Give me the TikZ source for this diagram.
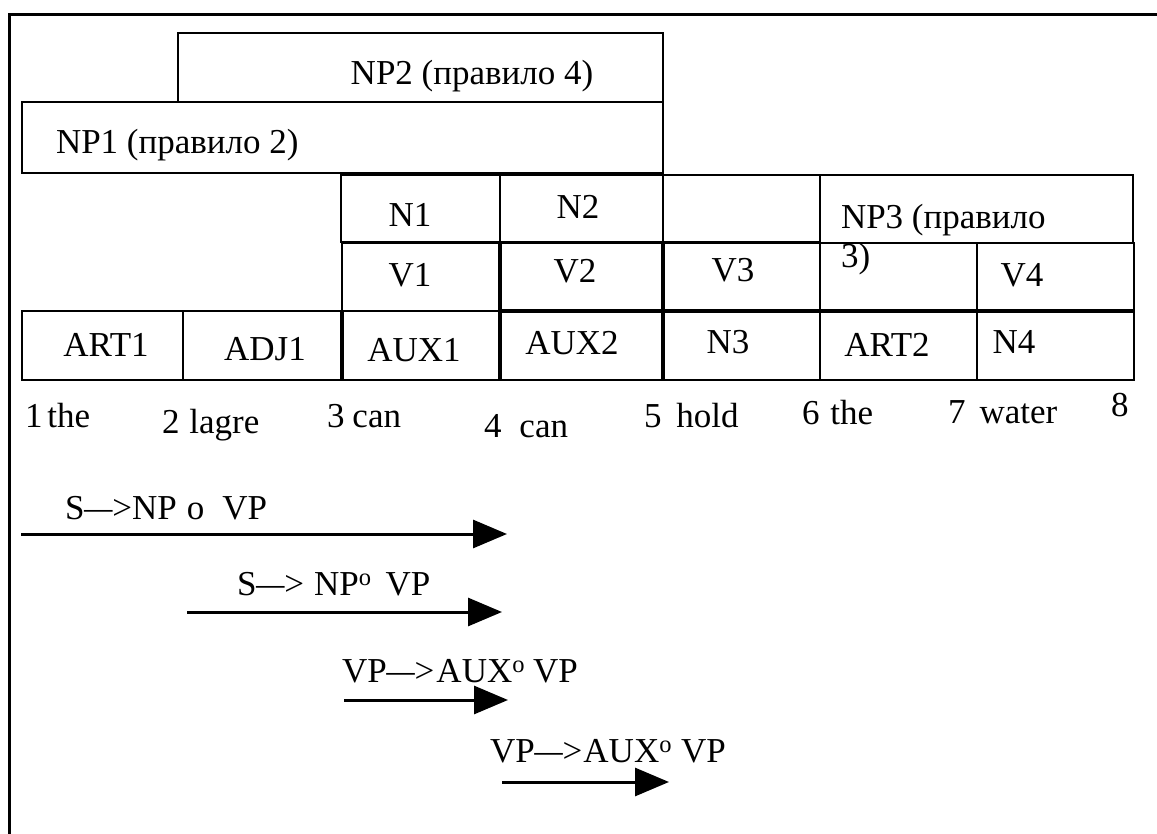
\documentclass[tikz,border=0pt]{standalone}
\usepackage{fontspec}
\setmainfont{Liberation Serif}
\usetikzlibrary{arrows.meta}
% dash used in the rewrite rules
\newcommand\rdash{\scalebox{1.6}[1]{–}}
\begin{document}
\begin{tikzpicture}[x=1pt,y=-1pt,
  cell/.style={draw=black, line width=2.5pt},
  heavy/.style={draw=black, line width=4pt},
  txt/.style={inner sep=0pt, outer sep=0pt, font=\fontsize{35}{40}\selectfont},
  ctr/.style={txt, anchor=base},
  lft/.style={txt, anchor=base west},
  rulearrow/.style={line width=3pt, -{Triangle[length=34pt,width=28pt]}},
]
\useasboundingbox (0,0) rectangle (1157,834);
\fill[white] (0,0) rectangle (1157,834);

% open frame: top and left edges only
\draw[line width=3pt] (9.5,834) -- (9.5,14.5) -- (1157,14.5);

% noun phrase spans
\draw[cell] (178,33) rectangle (663,102);
\draw[cell] (22,102) rectangle (663,173);

% upper category row
\draw[cell] (341,175) rectangle (500,242);
\draw[cell] (500,175) rectangle (663,242);
\draw[cell] (663,175) rectangle (820,242);
\draw[cell] (820,175) rectangle (1133,243);

% verb row
\draw[cell] (342,243) rectangle (500,311);
\draw[cell] (500,243) rectangle (663,311);
\draw[cell] (663,243) rectangle (820,311);
\draw[cell] (820,243) rectangle (977,311);
\draw[cell] (977,243) rectangle (1134,311);

% word-category row
\draw[cell] (22,311) rectangle (183,380);
\draw[cell] (183,311) rectangle (342,380);
\draw[cell] (342,311) rectangle (500,380);
\draw[cell] (500,311) rectangle (663,380);
\draw[cell] (663,311) rectangle (820,380);
\draw[cell] (820,311) rectangle (977,380);
\draw[cell] (977,311) rectangle (1134,380);

% heavier rules
\draw[heavy] (342,311) -- (342,380);
\draw[heavy] (500,243) -- (500,380);
\draw[heavy] (663,243) -- (663,380);
\draw[heavy] (500,311) -- (1134,311);

% cell labels
\node[ctr] (np2) at (472,85) {NP2 (правило 4)};
\node[lft] (np1) at (56,154) {NP1 (правило 2)};
\node[ctr] (n1) at (410,227) {N1};
\node[ctr] (n2) at (578,219) {N2};
\node[lft] (np3a) at (841,229) {NP3 (правило};
\node[lft] (np3b) at (841,268) {3)};
\node[ctr] (v1) at (410,287) {V1};
\node[ctr] (v2) at (575,283) {V2};
\node[ctr] (v3) at (733,282) {V3};
\node[ctr] (v4) at (1022,287) {V4};
\node[ctr] (art1) at (106,357) {ART1};
\node[ctr] (adj1) at (265,360) {ADJ1};
\node[ctr] (aux1) at (414,362) {AUX1};
\node[ctr] (aux2) at (572,355) {AUX2};
\node[ctr] (n3) at (728,354) {N3};
\node[ctr] (art2) at (887,356) {ART2};
\node[ctr] (n4) at (1014,354) {N4};

% numbered words
\node[lft] (w1) at (25,427) {1\hspace{5pt}the};
\node[lft] (w2) at (162,433) {2\hspace{10pt}lagre};
\node[lft] (w3) at (327,427) {3\hspace{8pt}can};
\node[lft] (w4) at (484,437) {4\hspace{18pt}can};
\node[lft] (w5) at (644,427) {5\hspace{15pt}hold};
\node[lft] (w6) at (802,424) {6\hspace{11pt}the};
\node[lft] (w7) at (948,423) {7\hspace{14pt}water};
\node[lft] (w8) at (1111,417) {8};

% rule labels
\node[lft] (r1) at (65,519) {S\rdash>NP\hspace{10pt}o\hspace{18pt}VP};
\node[lft] (r2) at (237,595) {S\rdash>\hspace{10pt}NP\textsuperscript{o}\hspace{14pt}VP};
\node[lft] (r3) at (342,682) {VP\rdash>\hspace{2pt}AUX\textsuperscript{o}\hspace{8pt}VP};
\node[lft] (r4) at (490,762) {VP\rdash>\hspace{1pt}AUX\textsuperscript{o}\hspace{9pt}VP};

% rule arrows
\coordinate (a1s) at (21,534);  \coordinate (a1e) at (507,534);
\coordinate (a2s) at (187,612); \coordinate (a2e) at (502,612);
\coordinate (a3s) at (344,700); \coordinate (a3e) at (508,700);
\coordinate (a4s) at (502,782); \coordinate (a4e) at (669,782);
\draw[rulearrow] (a1s) -- (a1e);
\draw[rulearrow] (a2s) -- (a2e);
\draw[rulearrow] (a3s) -- (a3e);
\draw[rulearrow] (a4s) -- (a4e);
\end{tikzpicture}
\end{document}
